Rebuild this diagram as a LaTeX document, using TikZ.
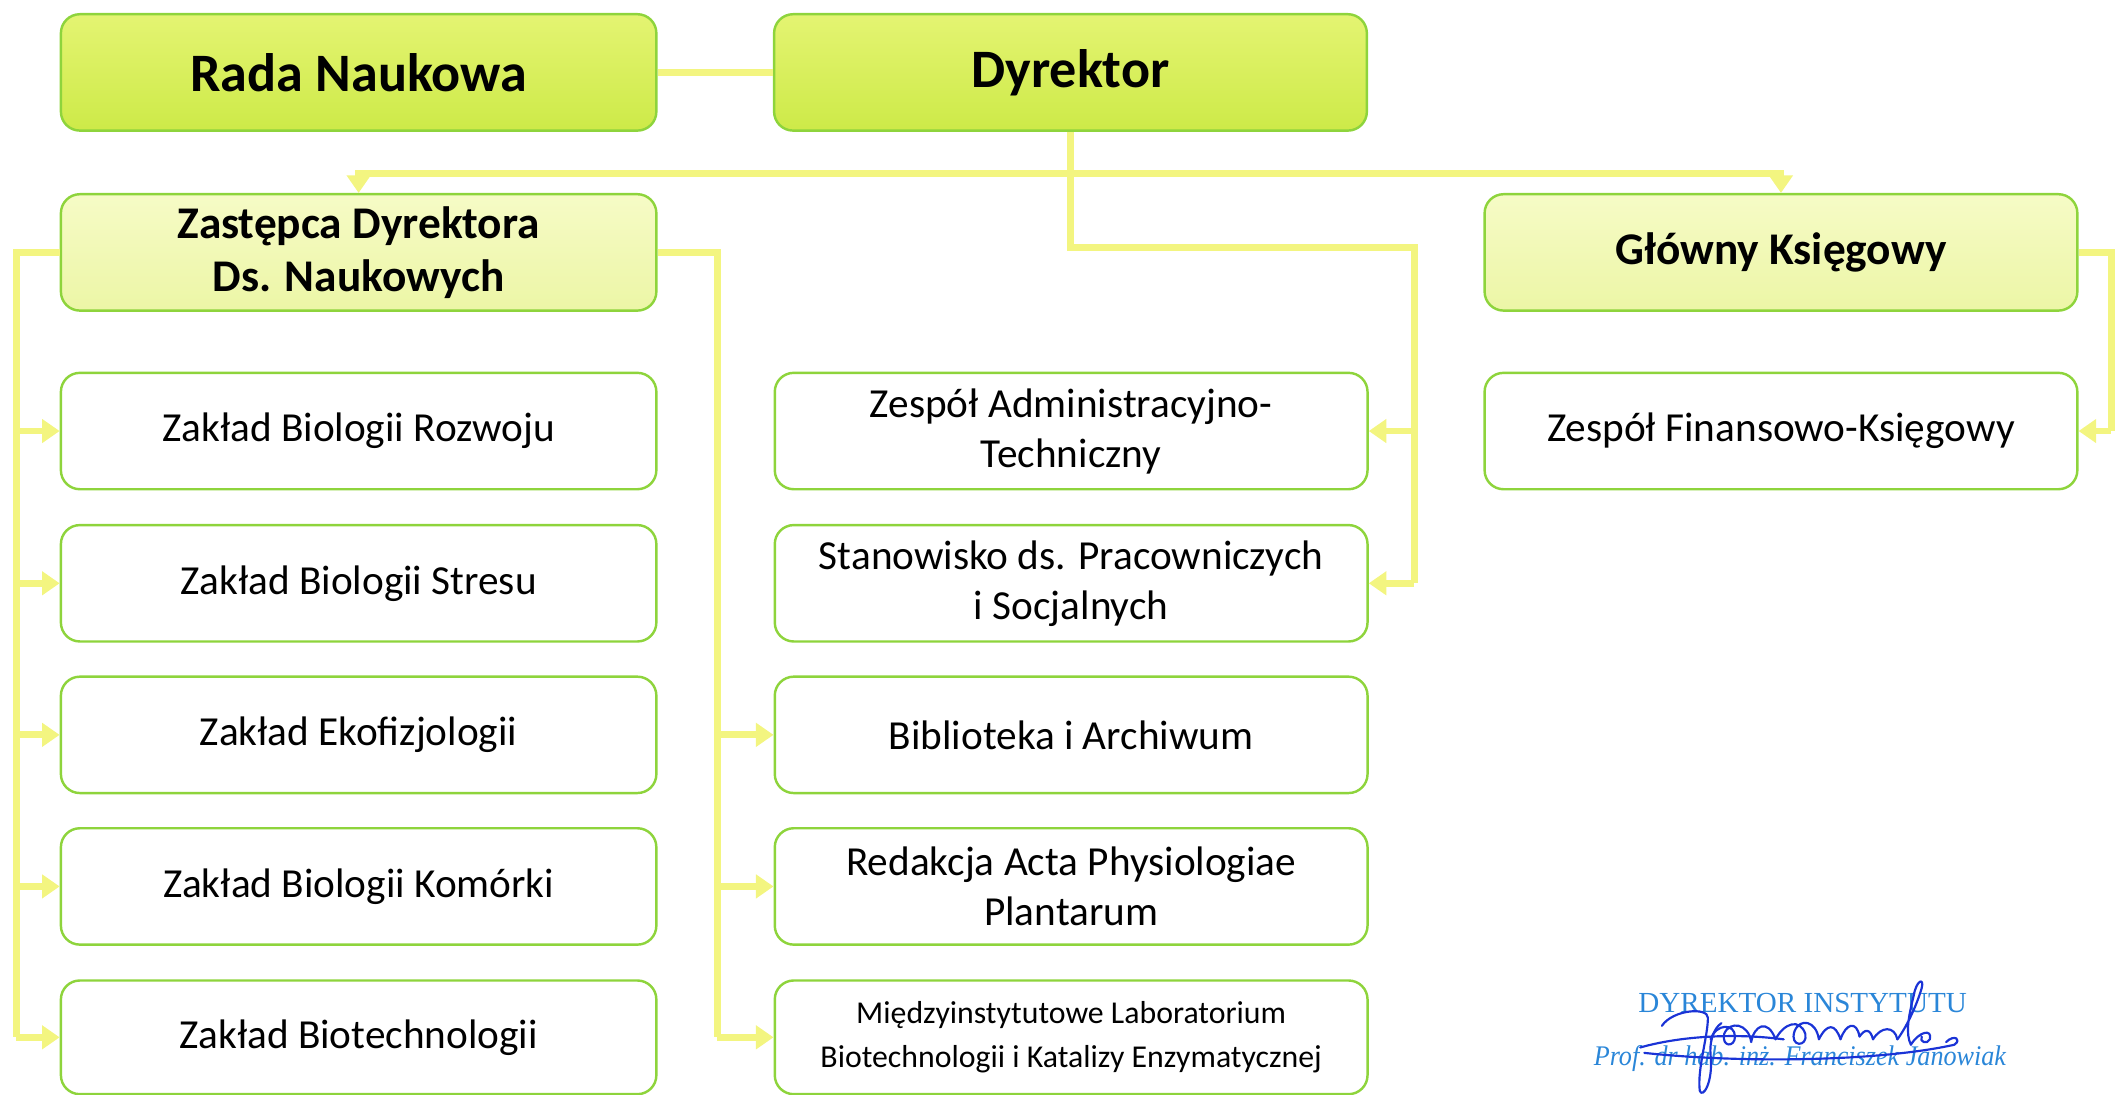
\documentclass[tikz,border=0pt]{standalone}
\usepackage{fontspec}
\setmainfont{Carlito}
\newfontfamily\sigfont{Liberation Serif}
\usetikzlibrary{arrows.meta}
\definecolor{connY}{HTML}{F3F580}
\definecolor{boxG}{HTML}{8ED43C}
\definecolor{topA}{HTML}{E4F472}
\definecolor{topB}{HTML}{CDEA48}
\definecolor{midA}{HTML}{F6FBC6}
\definecolor{midB}{HTML}{ECF6A6}
\definecolor{sigBlue}{HTML}{2A86D8}
\definecolor{inkBlue}{HTML}{1A33D6}
\tikzset{
  orgbox/.style={draw=boxG, line width=1.8pt, rounded corners=14pt,
    minimum width=440pt, minimum height=86pt, align=center, inner sep=0pt,
    fill=white, font=\fontsize{30.5}{37}\selectfont},
  topbox/.style={orgbox, top color=topA, bottom color=topB,
    font=\fontsize{40}{48}\selectfont\bfseries},
  midbox/.style={orgbox, top color=midA, bottom color=midB,
    font=\fontsize{33.5}{39}\selectfont\bfseries},
  smallbox/.style={orgbox, font=\fontsize{23.5}{32}\selectfont},
  conn/.style={draw=connY, line width=5pt},
  arr/.style={conn, -{Triangle[length=13pt,width=17pt]}},
  sig/.style={draw=inkBlue, line width=1.6pt, line cap=round, line join=round}
}
\begin{document}
\begin{tikzpicture}[x=1pt,y=-1pt]
\useasboundingbox (0,0) rectangle (1568,809);

% connectors first (under boxes)
\coordinate (hl) at (791,128);
\coordinate (dj) at (1045,183);
\coordinate (lb) at (12,186.5);
\coordinate (rb) at (530,186.5);
\coordinate (gb) at (1560,186.5);

% boxes
\node[topbox] (rada) at (265,53.5) {Rada Naukowa};
\node[topbox, minimum width=438pt] (dyr) at (791,53.5) {Dyrektor};
\node[midbox] (zast) at (265,186.5) {Zastępca Dyrektora\\Ds. Naukowych};
\node[midbox, minimum width=438pt] (glow) at (1316,186.5) {Główny Księgowy};

\node[orgbox] (z1) at (265,318.5) {Zakład Biologii Rozwoju};
\node[orgbox] (z2) at (265,431) {Zakład Biologii Stresu};
\node[orgbox] (z3) at (265,543) {Zakład Ekofizjologii};
\node[orgbox] (z4) at (265,655) {Zakład Biologii Komórki};
\node[orgbox, minimum height=84pt] (z5) at (265,766.5) {Zakład Biotechnologii};

\node[orgbox, minimum width=438pt] (m1) at (791.5,318.5) {Zespół Administracyjno-\\Techniczny};
\node[orgbox, minimum width=438pt] (m2) at (791.5,431) {Stanowisko ds. Pracowniczych\\i Socjalnych};
\node[orgbox, minimum width=438pt] (m3) at (791.5,543) {Biblioteka i Archiwum};
\node[orgbox, minimum width=438pt] (m4) at (791.5,655) {Redakcja Acta Physiologiae\\Plantarum};
\node[smallbox, minimum width=438pt, minimum height=84pt] (m5) at (791.5,766.5) {Międzyinstytutowe Laboratorium\\Biotechnologii i Katalizy Enzymatycznej};

\node[orgbox, minimum width=438pt] (fin) at (1316,318.5) {Zespół Finansowo-Księgowy};

% connectors
\draw[conn] (rada.east) -- (dyr.west);
\draw[conn] (dyr.south) |- (dj) -- (dj |- m2.east);
\draw[arr] (hl) -| (zast.north);
\draw[arr] (hl) -| (glow.north);
\draw[arr] (m1.east -| dj) -- (m1.east);
\draw[arr] (m2.east -| dj) -- (m2.east);

\draw[conn] (zast.west) -- (lb) -- (lb |- z5.west);
\foreach \b in {z1,z2,z3,z4,z5}
  \draw[arr] (\b.west -| lb) -- (\b.west);

\draw[conn] (zast.east) -- (rb) -- (rb |- m5.west);
\foreach \b in {m3,m4,m5}
  \draw[arr] (\b.west -| rb) -- (\b.west);

\draw[conn] (glow.east) -- (gb) -- (gb |- fin.east);
\draw[arr] (fin.east -| gb) -- (fin.east);

% signature block
\node[text=sigBlue, font=\sigfont\fontsize{21.5}{24}\selectfont, inner sep=0pt] (sigt) at (1332,741) {DYREKTOR INSTYTUTU};
\node[text=sigBlue, font=\sigfont\itshape\fontsize{21}{24}\selectfont, inner sep=0pt, xscale=0.92] (sign) at (1330,782) {Prof. dr hab. inż. Franciszek Janowiak};

% handwritten signature (scribble)
\draw[sig] (1228,758) .. controls (1236,746) and (1262,744) .. (1262,752)
  .. controls (1262,766) and (1254,790) .. (1256,806)
  .. controls (1258,812) and (1266,800) .. (1264,780)
  .. controls (1263,770) and (1266,760) .. (1272,756);
\draw[sig] (1212,774) .. controls (1240,766) and (1280,763) .. (1318,768);
\draw[sig] (1264,768) .. controls (1268,756) and (1282,756) .. (1282,766)
  .. controls (1282,774) and (1272,774) .. (1274,764)
  .. controls (1278,754) and (1292,756) .. (1294,770)
  .. controls (1296,758) and (1306,752) .. (1312,768)
  .. controls (1318,756) and (1330,752) .. (1334,764)
  .. controls (1336,774) and (1322,774) .. (1326,762)
  .. controls (1330,752) and (1342,754) .. (1344,768)
  .. controls (1350,756) and (1356,756) .. (1360,768)
  .. controls (1364,756) and (1372,754) .. (1374,766)
  .. controls (1378,760) and (1382,760) .. (1384,768)
  .. controls (1390,758) and (1400,758) .. (1402,768);
\draw[sig] (1402,768) .. controls (1408,760) and (1416,744) .. (1420,730)
  .. controls (1422,722) and (1416,724) .. (1414,736)
  .. controls (1410,752) and (1408,764) .. (1412,772)
  .. controls (1418,762) and (1428,760) .. (1426,768)
  .. controls (1424,772) and (1418,770) .. (1420,766);
\draw[sig] (1215,778) .. controls (1290,786) and (1390,784) .. (1444,772)
  .. controls (1450,768) and (1444,764) .. (1438,770);
\end{tikzpicture}
\end{document}
